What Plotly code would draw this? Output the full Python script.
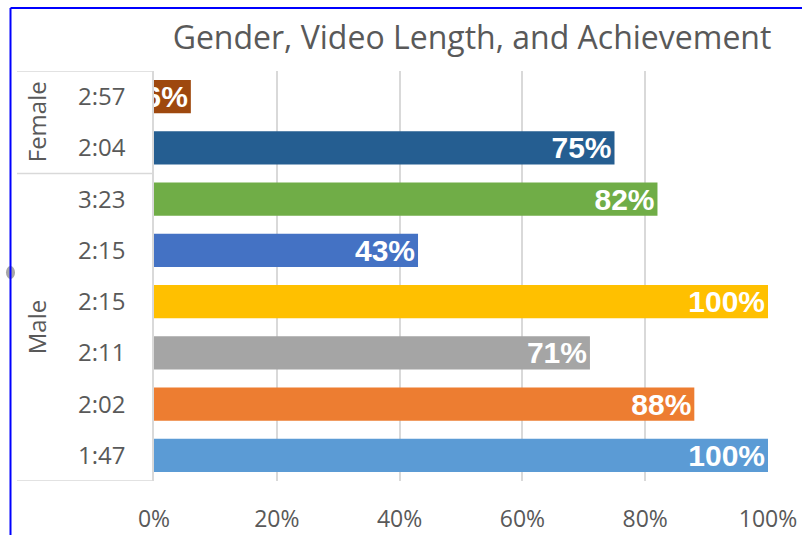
import plotly.graph_objects as go

# Data (bottom to top)
groups = ["Male", "Male", "Male", "Male", "Male", "Male", "Female", "Female"]
times = ["1:47", "2:02", "2:11", "2:15", "2:15", "3:23", "2:04", "2:57"]
values = [1.00, 0.88, 0.71, 1.00, 0.43, 0.82, 0.75, 0.06]
labels = ["100%", "88%", "71%", "100%", "43%", "82%", "75%", "6%"]
colors = ["#5B9BD5", "#ED7D31", "#A5A5A5", "#FFC000", "#4472C4", "#70AD47", "#255E91", "#9E480E"]
x_ticks = [0, 0.2, 0.4, 0.6, 0.8, 1.0]
x_ticktext = ["0%", "20%", "40%", "60%", "80%", "100%"]

pos = list(range(len(times)))
GRAY = "#595959"
LINE = "#D9D9D9"

fig = go.Figure()
fig.add_trace(go.Bar(
    y=pos, x=values, orientation="h",
    marker=dict(color=colors, line=dict(width=0)),
    width=0.65,
    text=labels, textposition="inside", insidetextanchor="end",
    textangle=0, constraintext="none",
    textfont=dict(family="Arial, Liberation Sans", size=30, color="white", weight="bold"),
    cliponaxis=True, hoverinfo="skip",
))

L, R, T, B = 154, 34, 71, 54
W, H = 802, 535
pw, ph = W - L - R, H - T - B

def px_x(p):
    return (p - L) / pw

def px_y(p):
    return (H - B - p) / ph

shapes = []
# group divider lines of the category table
for yv in [len(times) - 0.5, 5.5, -0.5]:
    shapes.append(dict(type="line", xref="paper", yref="y", x0=px_x(17), x1=0,
                       y0=yv, y1=yv, line=dict(color=LINE, width=1.5)))
# selection handle and blue border
shapes.append(dict(type="circle", xref="paper", yref="paper", x0=px_x(6), x1=px_x(15),
                   y0=px_y(279), y1=px_y(266), fillcolor="#A6A6A6", line=dict(width=0)))
shapes.append(dict(type="line", xref="paper", yref="paper", x0=px_x(10.5), x1=px_x(10.5),
                   y0=px_y(8), y1=px_y(540), line=dict(color="#0000FF", width=2)))
shapes.append(dict(type="line", xref="paper", yref="paper", x0=px_x(10.5), x1=px_x(805),
                   y0=px_y(8), y1=px_y(8), line=dict(color="#0000FF", width=2)))

annotations = []
group_names = ["Female", "Male"]
for g in group_names:
    idx = [i for i, gg in enumerate(groups) if gg == g]
    annotations.append(dict(xref="paper", yref="y", x=px_x(36), y=(min(idx) + max(idx)) / 2,
                            text=g, textangle=-90, showarrow=False,
                            font=dict(family="Open Sans", size=24, color=GRAY),
                            xanchor="center", yanchor="middle"))

fig.update_layout(
    width=W, height=H,
    margin=dict(l=L, r=R, t=T, b=B, autoexpand=False),
    paper_bgcolor="white", plot_bgcolor="white",
    showlegend=False,
    bargap=0.35,
    title=dict(text="Gender, Video Length, and Achievement",
               x=px_x(472), xref="paper", xanchor="center",
               y=1 - 38 / H, yref="container", yanchor="middle",
               font=dict(family="Open Sans", size=32, color=GRAY)),
    xaxis=dict(range=[0, 1], tickvals=x_ticks, ticktext=x_ticktext,
               showgrid=True, gridcolor=LINE, gridwidth=1.5,
               zeroline=False, showline=False, ticks="",
               ticklabelstandoff=22, automargin=False,
               tickfont=dict(family="Open Sans", size=23, color=GRAY), fixedrange=True),
    yaxis=dict(range=[-0.5, len(times) - 0.5], tickvals=pos, ticktext=times,
               showgrid=False, zeroline=False, showline=True, linecolor=LINE, linewidth=1.5,
               ticks="", ticklabelstandoff=22, automargin=False,
               tickfont=dict(family="Open Sans", size=24, color=GRAY), fixedrange=True),
    shapes=shapes,
    annotations=annotations,
)

fig.write_html("out.html", config={"displayModeBar": False})
